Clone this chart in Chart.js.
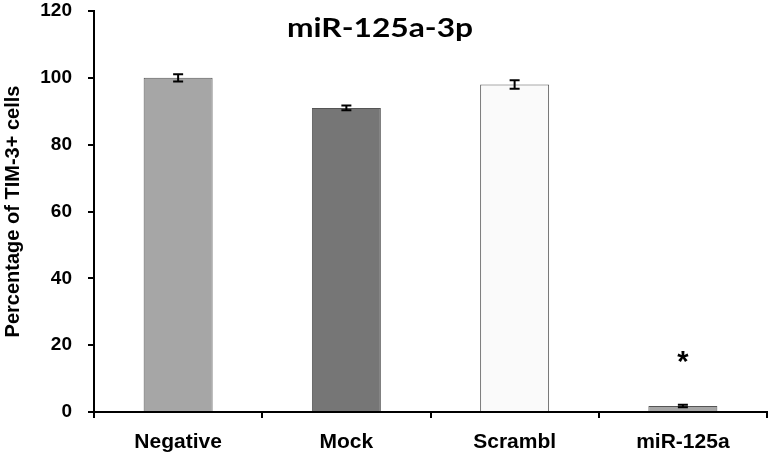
<!DOCTYPE html>
<html>
<head>
<meta charset="utf-8">
<script src="https://cdn.jsdelivr.net/npm/chart.js@4.4.0/dist/chart.umd.min.js"></script>
<style>
  html, body { margin: 0; padding: 0; background: #fff; }
  #wrap { width: 774px; height: 459px; }
</style>
</head>
<body>
<div id="wrap"><canvas id="c" width="774" height="459"></canvas></div>
<script>
const categories = ["Negative", "Mock", "Scrambl", "miR-125a"];
const values = [100, 91, 98, 1.8];
const errors = [1.1, 0.7, 1.25, 0.35];
const significant = [false, false, false, true];
const barColors = ["#a6a6a6", "#767676", "#fafafa", "#a6a6a6"];
const yTicks = [0, 20, 40, 60, 80, 100, 120];
const titleText = "miR-125a-3p";
const yTitle = "Percentage of TIM-3+ cells";
const starValue = 16;

const errorBarPlugin = {
  id: "errorBars",
  afterDatasetsDraw(chart) {
    const ctx = chart.ctx;
    const meta = chart.getDatasetMeta(0);
    const y = chart.scales.y;
    ctx.save();
    ctx.strokeStyle = "#000";
    ctx.lineWidth = 2;
    meta.data.forEach((bar, i) => {
      const x = bar.x;
      const top = y.getPixelForValue(values[i] + errors[i]);
      const bot = y.getPixelForValue(values[i] - errors[i]);
      const hw = 5;
      ctx.beginPath();
      ctx.moveTo(x, top); ctx.lineTo(x, bot);
      ctx.moveTo(x - hw, top); ctx.lineTo(x + hw, top);
      ctx.moveTo(x - hw, bot); ctx.lineTo(x + hw, bot);
      ctx.stroke();
      if (significant[i]) {
        ctx.fillStyle = "#000";
        ctx.font = "bold 29px 'Liberation Sans', Arial, sans-serif";
        ctx.textAlign = "center";
        ctx.textBaseline = "middle";
        ctx.fillText("*", x, y.getPixelForValue(starValue) + 4);
      }
    });
    ctx.restore();
  }
};

const titlePlugin = {
  id: "innerTitle",
  afterDraw(chart) {
    const ctx = chart.ctx;
    ctx.save();
    ctx.fillStyle = "#000";
    ctx.font = "bold 26px Lato, 'Open Sans', sans-serif";
    ctx.textAlign = "center";
    ctx.textBaseline = "alphabetic";
    ctx.translate(380, 37);
    ctx.scale(1.22, 1);
    ctx.fillText(titleText, 0, 0);
    ctx.restore();
  }
};

new Chart(document.getElementById("c"), {
  type: "bar",
  data: {
    labels: categories,
    datasets: [{
      data: values,
      backgroundColor: barColors,
      borderColor: "#555",
      borderWidth: 1,
      categoryPercentage: 1,
      barPercentage: 0.41
    }]
  },
  options: {
    responsive: false,
    animation: false,
    devicePixelRatio: 1,
    layout: { padding: { top: 0, right: 7, left: 0, bottom: 0 } },
    plugins: { legend: { display: false }, tooltip: { enabled: false }, title: { display: false } },
    scales: {
      x: {
        grid: { display: true, drawOnChartArea: false, drawTicks: true, tickLength: 6, color: "#000", lineWidth: 2, offset: true },
        border: { display: true, color: "#000", width: 2 },
        ticks: { color: "#000", font: { family: "'Liberation Sans', Arial, sans-serif", size: 21, weight: "bold" }, padding: 12, maxRotation: 0 },
        afterFit(s) { s.height = 47; }
      },
      y: {
        min: 0, max: 120,
        afterBuildTicks(s) { s.ticks = yTicks.map(v => ({ value: v })); },
        grid: { display: true, drawOnChartArea: false, drawTicks: true, tickLength: 6, color: "#000", lineWidth: 2 },
        border: { display: true, color: "#000", width: 2 },
        ticks: { color: "#000", font: { family: "'Liberation Sans', Arial, sans-serif", size: 19, weight: "bold" }, padding: 16 },
        title: { display: true, text: yTitle, color: "#000", font: { family: "'Liberation Sans', Arial, sans-serif", size: 20, weight: "bold" }, padding: { top: 1, bottom: 0 } },
        afterFit(s) { s.width = 94; s.paddingTop = 11; s.paddingBottom = 0; }
      }
    }
  },
  plugins: [errorBarPlugin, titlePlugin]
});
</script>
</body>
</html>
